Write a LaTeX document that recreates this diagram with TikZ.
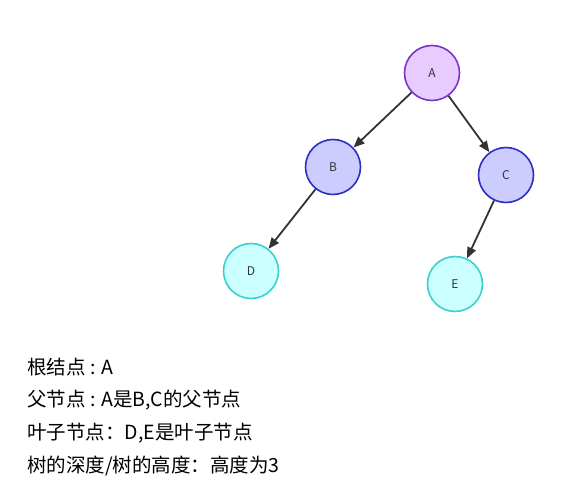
\documentclass[tikz,border=0pt]{standalone}
\usepackage{fontspec}
\setmainfont{Noto Sans CJK SC}
\usetikzlibrary{arrows.meta}
\definecolor{afill}{HTML}{E8CCFF}
\definecolor{adraw}{HTML}{7B35C4}
\definecolor{bfill}{HTML}{CCCCFF}
\definecolor{bdraw}{HTML}{2A30C2}
\definecolor{dfill}{HTML}{CCFFFF}
\definecolor{ddraw}{HTML}{3CCFCF}
\definecolor{edgec}{HTML}{333333}
\tikzset{
  treenode/.style={circle, minimum size=55pt, inner sep=0pt, line width=1.6pt, font=\fontsize{12}{12}\selectfont, text=edgec},
  rootn/.style={treenode, fill=afill, draw=adraw},
  midn/.style={treenode, fill=bfill, draw=bdraw},
  leafn/.style={treenode, fill=dfill, draw=ddraw},
  edge/.style={draw=edgec, line width=1.8pt, -{Triangle[length=11pt,width=9pt]}},
  info/.style={anchor=west, inner sep=0pt, font=\fontsize{19.5}{19.5}\selectfont, text=black}
}
\begin{document}
\begin{tikzpicture}[x=1pt,y=-1pt]
\useasboundingbox (0,0) rectangle (567,502);
\node[rootn] (A) at (432,73) {A};
\node[midn] (B) at (333,167) {B};
\node[midn] (C) at (506,175) {C};
\node[leafn] (D) at (251,271) {D};
\node[leafn] (E) at (455,284) {E};
\draw[edge] (A) -- (B);
\draw[edge] (A) -- (C);
\draw[edge] (B) -- (D);
\draw[edge] (C) -- (E);
\node[info] (t1) at (27,367) {根结点 : A};
\node[info] (t2) at (27,400) {父节点 : A是B,C的父节点};
\node[info] (t3) at (27,433) {叶子节点：D,E是叶子节点};
\node[info] (t4) at (27,466) {树的深度/树的高度：高度为3};
\end{tikzpicture}
\end{document}
